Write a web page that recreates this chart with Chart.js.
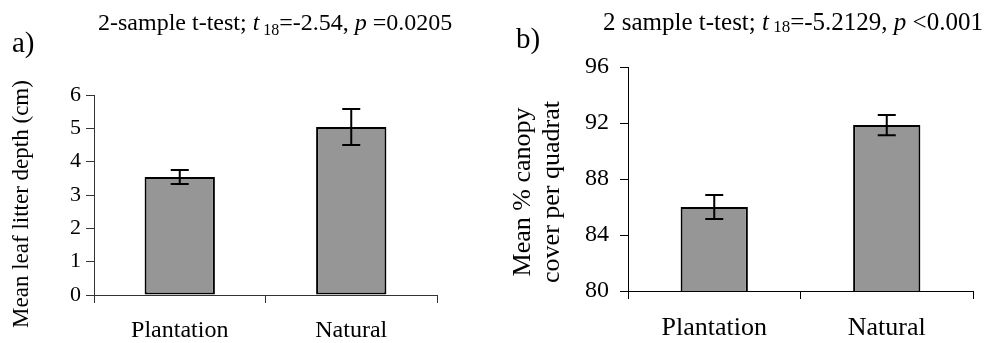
<!DOCTYPE html>
<html>
<head>
<meta charset="utf-8">
<script src="https://cdn.jsdelivr.net/npm/chart.js@4/dist/chart.umd.min.js"></script>
<style>
  html, body { margin: 0; padding: 0; background: #fff; }
  #wrap { position: relative; width: 990px; height: 343px; overflow: hidden; }
  canvas { position: absolute; top: 0; }
  #litter { left: 0; }
  #canopy { left: 490px; }
  #probe { position: absolute; left: -2000px; top: 0; font-family: 'Liberation Serif'; font-size: 24px; }
</style>
</head>
<body>
<div id="probe">Plantation 0123 <i>t p</i></div>
<div id="wrap">
  <canvas id="litter" width="490" height="343"></canvas>
  <canvas id="canopy" width="500" height="343"></canvas>
</div>
<script>
const groups = ['Plantation', 'Natural'];
const litterMeans = [3.54, 5.04];
const litterSE = [0.21, 0.54];
const canopyMeans = [86.0, 91.85];
const canopySE = [0.86, 0.72];
const litterTicks = [0, 6, 1];   // min, max, step
const canopyTicks = [80, 96, 4];

const SERIF = '"Liberation Serif"';
Chart.defaults.font.family = SERIF;
Chart.defaults.color = '#000';

// error bars, placed with the chart's own y scale
const errorBars = {
  id: 'errorBars',
  afterDatasetsDraw(chart, args, opts) {
    const { ctx, scales: { y } } = chart;
    const meta = chart.getDatasetMeta(0);
    ctx.save();
    ctx.strokeStyle = '#000';
    ctx.lineWidth = 2;
    meta.data.forEach((bar, i) => {
      const m = opts.means[i], e = opts.errors[i];
      const top = y.getPixelForValue(m + e);
      const bot = y.getPixelForValue(m - e);
      ctx.beginPath();
      ctx.moveTo(bar.x, top); ctx.lineTo(bar.x, bot);
      ctx.moveTo(bar.x - opts.cap, top); ctx.lineTo(bar.x + opts.cap, top);
      ctx.moveTo(bar.x - opts.cap, bot); ctx.lineTo(bar.x + opts.cap, bot);
      ctx.stroke();
    });
    ctx.restore();
  }
};

// test title (italic t / p, subscript df), panel letter, rotated y title
const labels = {
  id: 'labels',
  afterDraw(chart, args, opts) {
    const ctx = chart.ctx;
    ctx.save();
    ctx.fillStyle = '#000';
    ctx.textAlign = 'left';
    ctx.textBaseline = 'alphabetic';
    let x = opts.titleX;
    for (const [text, size, italic, dy] of opts.title) {
      ctx.font = (italic ? 'italic ' : '') + size + 'px ' + SERIF;
      ctx.fillText(text, x, opts.titleY + dy);
      x += ctx.measureText(text).width;
    }
    ctx.font = opts.letterSize + 'px ' + SERIF;
    ctx.fillText(opts.letter, opts.letterX, opts.letterY);

    ctx.font = opts.axisSize + 'px ' + SERIF;
    ctx.textAlign = 'center';
    ctx.textBaseline = 'middle';
    ctx.translate(opts.axisX, opts.axisY);
    ctx.rotate(-Math.PI / 2);
    opts.axisTitle.forEach((line, i) => ctx.fillText(line, 0, i * opts.axisLine));
    ctx.restore();
  }
};

function makeChart(id, means, errors, range, o) {
  const axisGrid = { drawOnChartArea: false, tickLength: 8, color: o.axisColor, lineWidth: 1 };
  return new Chart(document.getElementById(id), {
    type: 'bar',
    data: {
      labels: groups,
      datasets: [{
        data: means,
        backgroundColor: '#969696',
        borderColor: '#000',
        borderWidth: 2,
        borderSkipped: false,
        barPercentage: o.barPct,
        categoryPercentage: 1
      }]
    },
    options: {
      responsive: false,
      animation: false,
      events: [],
      layout: { padding: o.padding },
      plugins: {
        legend: { display: false },
        tooltip: { enabled: false },
        errorBars: { means: means, errors: errors, cap: 9 },
        labels: o.labels
      },
      scales: {
        x: {
          grid: axisGrid,
          border: { color: o.axisColor },
          ticks: { font: { size: o.xSize }, padding: o.xPad },
          afterFit: s => { s.height = o.xHeight; }
        },
        y: {
          min: range[0],
          max: range[1],
          grid: axisGrid,
          border: { color: o.axisColor },
          ticks: { stepSize: range[2], font: { size: o.ySize }, padding: o.yPad },
          afterFit: s => { s.width = o.yWidth; }
        }
      }
    },
    plugins: [errorBars, labels]
  });
}

function build() {
  makeChart('litter', litterMeans, litterSE, litterTicks, {
    padding: { left: 0, top: 95, right: 53, bottom: 0 },
    yWidth: 94, xHeight: 48, barPct: 0.41,
    axisColor: '#333', xSize: 24, xPad: 13, ySize: 22, yPad: 5,
    labels: {
      title: [['2-sample t-test; ', 24, false, 0], ['t', 24, true, 0], [' 18', 16, false, 5],
              ['=-2.54, ', 24, false, 0], ['p', 24, true, 0], [' =0.0205', 24, false, 0]],
      titleX: 98, titleY: 30,
      letter: 'a)', letterSize: 29, letterX: 12, letterY: 52,
      axisTitle: ['Mean leaf litter depth (cm)'], axisSize: 23, axisX: 22, axisY: 204, axisLine: 0
    }
  });

  makeChart('canopy', canopyMeans, canopySE, canopyTicks, {
    padding: { left: 0, top: 67, right: 17, bottom: 0 },
    yWidth: 138, xHeight: 52, barPct: 0.39,
    axisColor: '#000', xSize: 26, xPad: 14, ySize: 24, yPad: 11,
    labels: {
      title: [['2 sample t-test; ', 25, false, 0], ['t', 25, true, 0], [' 18', 17, false, 2],
              ['=-5.2129, ', 25, false, 0], ['p', 25, true, 0], [' <0.001', 25, false, 0]],
      titleX: 113, titleY: 30,
      letter: 'b)', letterSize: 29, letterX: 26, letterY: 48,
      axisTitle: ['Mean % canopy', 'cover per quadrat'], axisSize: 26, axisX: 33, axisY: 192, axisLine: 29
    }
  });
}

// touch the serif face in the DOM first so the canvas has it
document.getElementById('probe').offsetWidth;
build();
</script>
</body>
</html>
